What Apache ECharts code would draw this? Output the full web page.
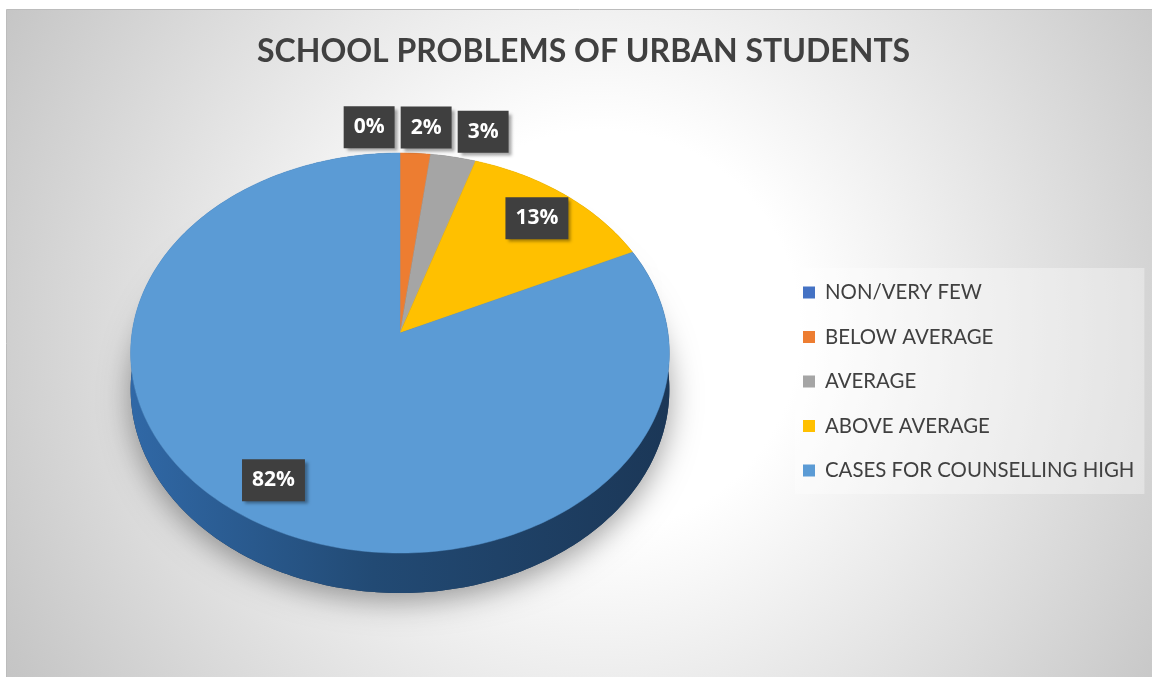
<!DOCTYPE html>
<html><head><meta charset="utf-8">
<script src="https://cdn.jsdelivr.net/npm/echarts@6/dist/echarts.min.js"></script>
<style>html,body{margin:0;padding:0;background:#fff}#c{width:1152px;height:677px}</style>
</head><body><div id="c"></div>
<script>
// ---- data ----
const titleText = 'SCHOOL PROBLEMS OF URBAN STUDENTS';
const categories = ['NON/VERY FEW', 'BELOW AVERAGE', 'AVERAGE', 'ABOVE AVERAGE', 'CASES FOR COUNSELLING HIGH'];
const percentValues = [0, 2, 3, 13, 82];
const percentLabels = ['0%', '2%', '3%', '13%', '82%'];

// ---- styles ----
const topColors = ['#4472C4', '#ED7D31', '#A5A5A5', '#FFC000', '#5B9BD5'];
const sideStops = [
  ['#2f5597', '#24427a', '#1c3460'],
  ['#b85c1f', '#9a4c18', '#7d3d12'],
  ['#7c7c7c', '#676767', '#545454'],
  ['#c79600', '#a67d00', '#886600'],
  ['#3068a6', '#224a74', '#1b3757']
];
const PIE = { cx: 400, cy: 333, R: 268, rx: 268, ry: 198, persp: 0.1, depth: 36 };

const total = percentValues.reduce((a, b) => a + b, 0);
const starts = [];
let acc = 0;
percentValues.forEach(v => { starts.push(acc); acc += v; });
const mids = starts.map((s, i) => s + percentValues[i] / 2);

function makeProjector(api, cs) {
  return function (r, a, drop) {
    const p = api.coord([r, a]);
    const u = (p[0] - cs.cx) / cs.r;
    const v = (p[1] - cs.cy) / cs.r;
    const w = 1 - PIE.persp * v;
    return [cs.cx + PIE.rx * u / w, cs.cy + (PIE.ry * v + (drop || 0)) / w];
  };
}

function labelPosition(P, idx) {
  if (percentValues[idx] >= 8) return P(0.82, mids[idx], 0);
  const small = [];
  percentValues.forEach((v, i) => { if (v < 8) small.push({ i, p: P(1.16, mids[i], 0) }); });
  const origMean = small.reduce((a, o) => a + o.p[0], 0) / small.length;
  small.sort((a, b) => a.p[0] - b.p[0]);
  const xs = small.map(o => o.p[0]);
  const gap = 57;
  for (let k = 1; k < xs.length; k++) if (xs[k] < xs[k - 1] + gap) xs[k] = xs[k - 1] + gap;
  const newMean = xs.reduce((a, b) => a + b, 0) / xs.length;
  const k = small.findIndex(o => o.i === idx);
  return [xs[k] - (newMean - origMean), small[k].p[1]];
}

function renderItem(params, api) {
  const s = api.value(0), e = api.value(1), idx = api.value(2);
  const cs = params.coordSys;
  const P = makeProjector(api, cs);
  const children = [];
  if (e > s) {
    const n = Math.max(2, Math.ceil((e - s) / total * 360));
    const rim = [], rimLow = [];
    for (let k = 0; k <= n; k++) {
      const a = s + (e - s) * k / n;
      rim.push(P(1, a, 0));
      rimLow.push(P(1, a, PIE.depth));
    }
    const c0 = P(0, s, 0), c1 = P(0, s, PIE.depth);
    const st = sideStops[idx];
    children.push({
      type: 'polygon', z2: 1,
      shape: { points: [c1].concat(rimLow) },
      style: { fill: st[2], shadowBlur: 30, shadowColor: 'rgba(0,0,0,0.38)', shadowOffsetY: 8 }
    });
    children.push({
      type: 'polygon', z2: 2,
      shape: { points: rim.concat(rimLow.slice().reverse()) },
      style: {
        fill: {
          type: 'linear', global: true,
          x: cs.cx - PIE.rx, y: 0, x2: cs.cx + PIE.rx, y2: 0,
          colorStops: [{ offset: 0, color: st[0] }, { offset: 0.45, color: st[1] }, { offset: 1, color: st[2] }]
        }
      }
    });
    children.push({
      type: 'polygon', z2: 3,
      shape: { points: [c0].concat(rim) },
      style: { fill: api.visual('color'), stroke: api.visual('color'), lineWidth: 0.5 }
    });
  }
  const lp = labelPosition(P, idx);
  children.push({
    type: 'text', z2: 10,
    style: {
      text: percentLabels[idx], x: lp[0], y: lp[1],
      align: 'center', verticalAlign: 'middle',
      fill: '#ffffff', fontSize: 21, fontWeight: 'bold', fontFamily: 'Open Sans',
      backgroundColor: '#3f3f3f', padding: [11, 10, 10, 10],
      shadowBlur: 3, shadowColor: 'rgba(0,0,0,0.35)', shadowOffsetX: 3, shadowOffsetY: 3
    }
  });
  return { type: 'group', children };
}

const chart = echarts.init(document.getElementById('c'));
chart.setOption({
  animation: false,
  backgroundColor: '#ffffff',
  graphic: [{
    type: 'rect', z: -10, silent: true,
    shape: { x: 6.5, y: 9.5, width: 1146, height: 668 },
    style: {
      fill: {
        type: 'radial', x: 0.518, y: 0.48, r: 1.067,
        colorStops: [
          { offset: 0, color: '#ffffff' }, { offset: 0.28, color: '#ffffff' },
          { offset: 0.94, color: '#c6c6c6' }, { offset: 1, color: '#c2c2c2' }
        ]
      },
      stroke: '#bcbcbc', lineWidth: 1
    }
  }],
  title: {
    text: titleText, left: 252, top: 31,
    textStyle: { fontFamily: 'Lato', fontWeight: 'bold', fontSize: 32, color: '#404040' }
  },
  legend: {
    data: categories, orient: 'vertical', left: 795, top: 268,
    padding: [14, 10, 13, 8], itemWidth: 12, itemHeight: 12, itemGap: 23.5, icon: 'rect',
    backgroundColor: 'rgba(255,255,255,0.35)', selectedMode: false,
    textStyle: { fontFamily: 'Lato', fontSize: 20.4, lineHeight: 21, color: '#404040', padding: [0, 0, 0, 5] }
  },
  polar: { center: [PIE.cx, PIE.cy], radius: PIE.R },
  angleAxis: { type: 'value', min: 0, max: total, startAngle: 90, clockwise: true, show: false },
  radiusAxis: { type: 'value', min: 0, max: 1, show: false },
  series: categories.map((name, i) => ({
    type: 'custom', name, coordinateSystem: 'polar',
    itemStyle: { color: topColors[i] },
    data: [[starts[i], starts[i] + percentValues[i], i]],
    renderItem
  }))
});
</script></body></html>
